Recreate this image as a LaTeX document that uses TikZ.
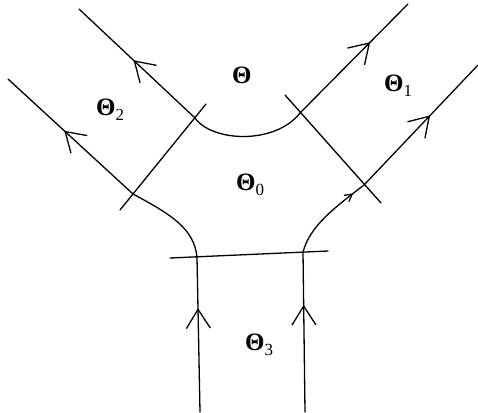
\documentclass[tikz,border=0pt]{standalone}
\usepackage{fontspec}
\setmainfont{Liberation Serif}
\usetikzlibrary{arrows.meta, decorations.markings}
\tikzset{
  % Boundary curves of the strips
  bdry/.style={line width=1.3pt, line cap=round},
  % Short cuts across the strips
  cutline/.style={line width=1.3pt, line cap=round},
  % Arrow set on a curve
  flow/.style={postaction={decorate, decoration={markings,
      mark=at position #1 with {\arrow{Straight Barb[length=19pt, width=24pt]}}}}},
  smallflow/.style={postaction={decorate, decoration={markings,
      mark=at position #1 with {\arrow{Straight Barb[length=7pt, width=8pt]}}}}},
  % Region labels
  region/.style={inner sep=0pt, anchor=base west,
    font=\fontsize{25}{27}\selectfont\bfseries},
}
\newcommand{\regsub}[1]{\raisebox{-0.45ex}{\fontsize{17}{19}\selectfont\mdseries #1}}

\begin{document}
\begin{tikzpicture}[x=1pt, y=-1pt]
  \useasboundingbox (0,0) rectangle (478,412);

  % Ends and crossings
  \coordinate (tlend) at (79,9);
  \coordinate (trend) at (408,4);
  \coordinate (lend) at (8,79);
  \coordinate (rend) at (478,65);
  \coordinate (tlx) at (195,118);
  \coordinate (trx) at (300,113);
  \coordinate (lx) at (133,194);
  \coordinate (rx) at (364,185);
  \coordinate (lfoot) at (197,257);
  \coordinate (rfoot) at (303,252);
  \coordinate (lbot) at (200,412);
  \coordinate (rbot) at (305,412);

  % Upper boundary
  \draw[bdry, flow=0.53] (tlx) -- (tlend);
  \draw[bdry] (tlx) .. controls (212,142) and (275,145) .. (trx);
  \draw[bdry, flow=0.65] (trx) -- (trend);

  % Left boundary
  \draw[bdry, flow=0.67] (lbot) -- (lfoot);
  \draw[bdry] (lfoot) .. controls (194,228) and (170,214) .. (lx);
  \draw[bdry, flow=0.55] (lx) -- (lend);

  % Right boundary
  \draw[bdry, flow=0.67] (rbot) -- (rfoot);
  \draw[bdry, smallflow=0.85] (rfoot) .. controls (310,226) and (334,208) .. (rx);
  \draw[bdry, flow=0.58] (rx) -- (rend);

  % Cuts
  \coordinate (lcut1) at (120,210);
  \coordinate (lcut2) at (206,104);
  \coordinate (rcut1) at (285,95);
  \coordinate (rcut2) at (381,203);
  \coordinate (bcut1) at (170,258);
  \coordinate (bcut2) at (328,251);
  \draw[cutline] (lcut1) -- (lcut2);
  \draw[cutline] (rcut1) -- (rcut2);
  \draw[cutline] (bcut1) -- (bcut2);

  % Regions
  \node[region] (th) at (232,83) {Θ};
  \node[region] (th1) at (384,91) {Θ\regsub{1}};
  \node[region] (th2) at (96,115) {Θ\regsub{2}};
  \node[region] (th0) at (236,190) {Θ\regsub{0}};
  \node[region] (th3) at (245,350) {Θ\regsub{3}};

\end{tikzpicture}
\end{document}
